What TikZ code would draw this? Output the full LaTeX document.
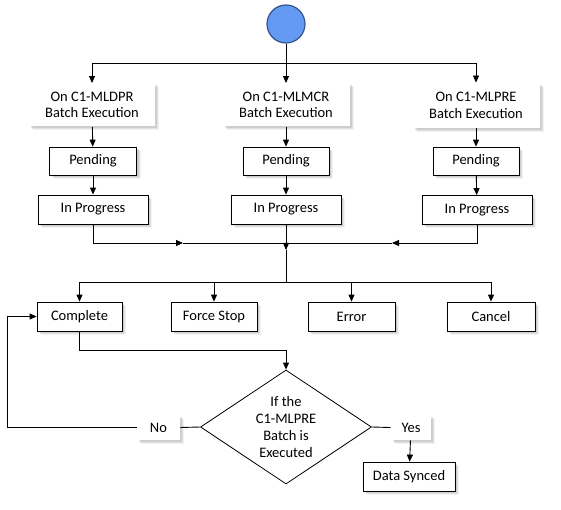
\documentclass[tikz,border=0pt]{standalone}
\usepackage{fontspec}
\setmainfont{Carlito}
\usetikzlibrary{shapes.geometric,arrows.meta,shadows}
\definecolor{startfill}{RGB}{100,154,242}
\definecolor{startdraw}{RGB}{52,82,140}
\begin{document}
\begin{tikzpicture}[x=1pt,y=-1pt,
  font=\fontsize{14.5}{16.5}\selectfont,
  line width=0.9pt,
  arr/.style={-{Triangle[width=6pt,length=7pt]}},
  shad/.style={
    drop shadow={shadow xshift=4pt,shadow yshift=-4pt,fill=black,opacity=0.05},
    drop shadow={shadow xshift=3pt,shadow yshift=-3pt,fill=black,opacity=0.07},
    drop shadow={shadow xshift=2pt,shadow yshift=-2pt,fill=black,opacity=0.09}},
  plainbox/.style={shad, fill=white, align=center, inner sep=0pt},
  box/.style={draw, line width=0.8pt, shad, fill=white, inner sep=0pt, align=center},
]
\useasboundingbox (0,0) rectangle (561,510);
% start
\node[circle, draw=startdraw, fill=startfill, line width=1.2pt, minimum size=38pt, inner sep=0pt] (S) at (286,24) {};
% top boxes
\node[plainbox, minimum width=126pt, minimum height=43pt] (B1) at (92,105) {On C1-MLDPR\\Batch Execution};
\node[plainbox, minimum width=127pt, minimum height=43pt] (B2) at (286,105) {On C1-MLMCR\\Batch Execution};
\node[plainbox, minimum width=127pt, minimum height=45pt] (B3) at (476,105.5) {On C1-MLPRE\\Batch Execution};
% pending
\node[box, minimum width=87pt, minimum height=28pt] (P1) at (93,161) {Pending};
\node[box, minimum width=86pt, minimum height=28pt] (P2) at (286,161) {Pending};
\node[box, minimum width=86pt, minimum height=28pt] (P3) at (476,161) {Pending};
% in progress
\node[box, minimum width=110pt, minimum height=29pt] (I1) at (93,209.5) {In Progress};
\node[box, minimum width=110pt, minimum height=29pt] (I2) at (286,209.5) {In Progress};
\node[box, minimum width=110pt, minimum height=29pt] (I3) at (477,210) {In Progress};
% outcomes
\node[box, minimum width=85pt, minimum height=29pt] (C1) at (79.5,316.5) {Complete};
\node[box, minimum width=86pt, minimum height=29pt] (C2) at (214,316.5) {Force Stop};
\node[box, minimum width=87pt, minimum height=29pt] (C3) at (351.5,316.5) {Error};
\node[box, minimum width=88pt, minimum height=29pt] (C4) at (491,316.5) {Cancel};
% decision
\node[diamond, draw, line width=0.8pt, fill=white, minimum width=171pt, minimum height=114pt, inner sep=0pt, aspect=1.5, align=center, font=\fontsize{14.5}{17.3}\selectfont] (D) at (286,427) {If the\\C1-MLPRE\\Batch is\\Executed};
\node[plainbox, minimum width=43pt, minimum height=25pt] (No) at (158.5,427.5) {No};
\node[plainbox, minimum width=40pt, minimum height=25pt] (Yes) at (411,427.5) {Yes};
\node[box, minimum width=92pt, minimum height=29pt] (DS) at (409,476.5) {Data Synced};
% coordinates
\coordinate (j1) at (286,63);
\coordinate (m1) at (183,243);
\coordinate (m2) at (286,243);
\coordinate (m3) at (392,243);
\coordinate (m4) at (286,250);
\coordinate (d1) at (286,282);
\coordinate (k1) at (286,350);
\coordinate (k2) at (7,427.5);
% connectors
\draw (S) -- (j1);
\draw[arr] (j1) -| (B1.north);
\draw[arr] (j1) -- (B2.north);
\draw[arr] (j1) -| (B3.north);
\draw[arr] (B1) -- (P1);
\draw[arr] (B2) -- (P2);
\draw[arr] (B3) -- (P3);
\draw[arr] (P1) -- (I1);
\draw[arr] (P2) -- (I2);
\draw[arr] (P3) -- (I3);
\draw[arr] (I1.south) |- (m1);
\draw (m1) -- (m2);
\draw[arr] (I3.south) |- (m3);
\draw (m3) -- (m2);
\draw[arr] (I2) -- (m4);
\draw (m4) -- (d1);
\draw[arr] (d1) -| (C1.north);
\draw[arr] (d1) -| (C2.north);
\draw[arr] (d1) -| (C3.north);
\draw[arr] (d1) -| (C4.north);
\draw[arr] (C1.south) |- (k1) -- (D.north);
\draw (D.west) -- (No.east);
\draw[arr] (No.west) -- (k2) |- (C1.west);
\draw (D.east) -- (Yes.west);
\draw[arr] (Yes) -- (DS);
\end{tikzpicture}
\end{document}
